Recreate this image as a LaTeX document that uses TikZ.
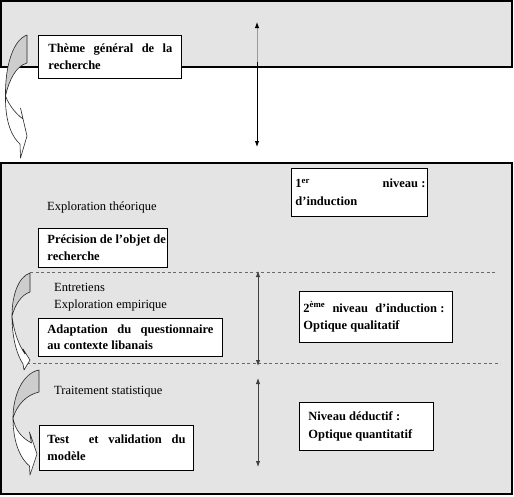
\documentclass[tikz,border=0pt]{standalone}
\usepackage{fontspec}
\setmainfont{Liberation Serif}
\usetikzlibrary{arrows.meta}
\definecolor{panelgray}{RGB}{228,228,228}
\definecolor{shadegray}{RGB}{205,205,205}
\definecolor{dashgray}{RGB}{105,105,105}
\newcommand\padbox[4]{\hspace*{#1pt}\parbox{#2pt}{#4}\hspace*{#3pt}}
\newcommand\colsp{\nobreak\hspace{3.2pt}}
\begin{document}
\begin{tikzpicture}[x=1pt,y=-1pt,
  >={Latex[length=6pt,width=4.5pt]},
  panel/.style={draw=black, fill=panelgray, line width=1.2pt},
  lbl/.style={draw=black, fill=white, line width=0.9pt, anchor=north west,
    inner xsep=0pt, inner ysep=0pt,
    font=\fontsize{12.5}{17.5}\selectfont\bfseries},
  plain/.style={anchor=base west, inner sep=0pt, font=\fontsize{12.5}{15}\selectfont},
  sepline/.style={draw=dashgray, dash pattern=on 3pt off 2.5pt, line width=0.7pt},
  vline/.style={line width=0.9pt},
  bandwhite/.style={draw=black!85, line width=0.6pt, fill=white, line join=round},
  bandshade/.style={draw=black!85, line width=0.6pt, fill=shadegray, line join=round},
]
\useasboundingbox (0,0) rectangle (514,496);
% panels
\draw[panel] (1,1) rectangle (512,67);
\draw[panel] (1,163) rectangle (512,494);

% separators
\coordinate (d1a) at (30,272); \coordinate (d1b) at (496,272);
\coordinate (d2a) at (27,363); \coordinate (d2b) at (500,363);
\draw[sepline] (d1a) -- (d1b);
\draw[sepline] (d2a) -- (d2b);

% vertical double arrows
\coordinate (t1) at (257,22); \coordinate (t1m) at (257,62); \coordinate (t1b) at (257,147);
\draw[vline, draw=black!40, -{Latex[length=6pt,width=4.5pt,black]}] (t1m) -- (t1);
\draw[vline, black, ->] (t1m) -- (t1b);
\coordinate (a2t) at (258,271); \coordinate (a2b) at (258,366);
\draw[vline, black!75, <->] (a2t) -- (a2b);
\coordinate (a3t) at (258,378); \coordinate (a3b) at (258,467);
\draw[vline, black!75, <->] (a3t) -- (a3b);

% boxed labels
\node[lbl, minimum width=143pt, minimum height=43pt] (theme) at (38,35)
  {\padbox{10}{124}{9}{Thème~général~de~la\linebreak recherche}};
\node[lbl, minimum width=136pt, minimum height=48pt] (niv1) at (291,168)
  {\padbox{4}{130}{2}{1\textsuperscript{er} niveau\colsp:\linebreak d’induction}};
\node[lbl, minimum width=129pt, minimum height=39pt] (prec) at (38,228)
  {\padbox{9}{120}{0}{Précision~de~l’objet~de\\recherche}};
\node[lbl, minimum width=153pt, minimum height=51pt] (niv2) at (299,291)
  {\padbox{4}{141}{8}{2\textsuperscript{ème}~niveau~d’induction\colsp:\linebreak Optique~qualitatif}};
\node[lbl, minimum width=184pt, minimum height=38pt,
  font=\fontsize{12.5}{15.5}\selectfont\bfseries] (adapt) at (38,318)
  {\padbox{9}{166}{9}{Adaptation~du~questionnaire\linebreak au~contexte~libanais}};
\node[lbl, minimum width=134pt, minimum height=48pt] (niv3) at (299,402)
  {\padbox{9}{121}{4}{Niveau~déductif\colsp:\\Optique~quantitatif}};
\node[lbl, minimum width=154pt, minimum height=45pt] (test) at (39,425)
  {\padbox{8}{138}{8}{Test~~et~validation~du\linebreak modèle}};

% plain texts
\node[plain] (expth) at (47,210) {Exploration théorique};
\node[plain] (entr) at (54,291) {Entretiens};
\node[plain] (expemp) at (54,308) {Exploration empirique};
\node[plain] (trait) at (54,394) {Traitement statistique};

% curved arrow A (top)
\draw[bandshade] (27,35) .. controls (13,40) and (5,66) .. (5.5,96)
  .. controls (9,80) and (16,66) .. (27,63) -- cycle;
\draw[bandwhite] (5.5,96) .. controls (5,124) and (13,138) .. (20,144)
  -- (20.5,158) -- (27,136) -- (20.5,108) -- (23,119)
  .. controls (15,113) and (9,105) .. (5.5,96) -- cycle;

% curved arrow B (middle)
\draw[bandshade] (30,273) .. controls (18,277) and (12,296) .. (12,316)
  .. controls (15,305) and (21,295) .. (30,292) -- cycle;
\draw[bandwhite] (12,316) .. controls (12,338) and (17,355) .. (23,364)
  -- (24,370) -- (30,360) -- (23,349) -- (25,354)
  .. controls (19,345) and (14,333) .. (12,316) -- cycle;

% curved arrow C (bottom)
\draw[bandshade] (39,370) .. controls (23,373) and (13,395) .. (13,418)
  .. controls (17,405) and (26,395) .. (39,392) -- cycle;
\draw[bandwhite] (13,418) .. controls (13,445) and (22,460) .. (29.5,466)
  -- (30,475) -- (37,454) -- (29.5,432) -- (31.5,443)
  .. controls (22,438) and (15,430) .. (13,418) -- cycle;
\end{tikzpicture}
\end{document}
